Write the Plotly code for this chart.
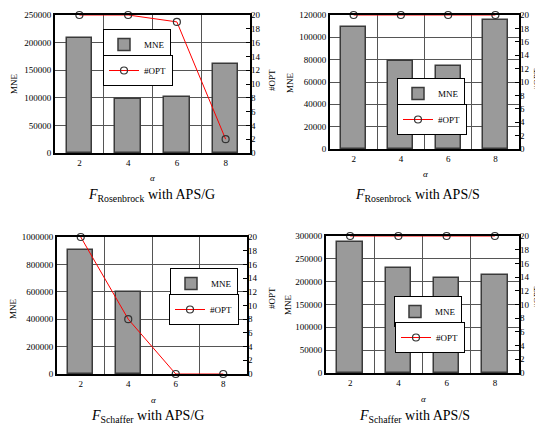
import plotly.graph_objects as go

alpha = [2, 4, 6, 8]
mne_rosen_g = [209000, 98000, 102000, 161000]
opt_rosen_g = [20, 20, 19, 2]
mne_rosen_s = [109000, 78600, 74200, 115500]
opt_rosen_s = [20, 20, 20, 20]
mne_schaf_g = [903000, 598000, 0, 0]
opt_schaf_g = [20, 8, 0, 0]
mne_schaf_s = [286000, 229000, 207000, 215500]
opt_schaf_s = [20, 20, 20, 20]

titles = ["<i>F</i><sub>Rosenbrock</sub> with APS/G",
          "<i>F</i><sub>Rosenbrock</sub> with APS/S",
          "<i>F</i><sub>Schaffer</sub> with APS/G",
          "<i>F</i><sub>Schaffer</sub> with APS/S"]
mne_sets = [mne_rosen_g, mne_rosen_s, mne_schaf_g, mne_schaf_s]
opt_sets = [opt_rosen_g, opt_rosen_s, opt_schaf_g, opt_schaf_s]
y_max = [250000, 120000, 1000000, 300000]
y_step = [50000, 20000, 200000, 50000]

W, H = 543, 425
OFF = 8  # page body margin in the browser
FW, FH = W - OFF, H - OFF
FONT = "Liberation Serif"

# plot boxes in window pixels (left, right, top, bottom)
boxes = [(55, 250, 15, 153), (330, 519, 15, 149), (57, 247, 237, 374), (326, 519, 236, 373)]
# legend top-left positions (MNE box, OPT box)
legpos = [((103, 29), (103, 55)), ((397, 78), (397, 104)),
          ((170, 268), (169, 294)), ((394, 296), (395, 322))]
title_pos = [(151, 195), (417, 195), (147, 416), (414, 416)]
alpha_pos = [(152, 178), (425, 174), (153, 400), (423, 399)]
mne_pos = [(14, 83), (290, 83), (13, 309), (288, 305)]
opt_pos = [(272, 80), (537, 79), (272, 298), (537, 297)]

def px(x):
    return (x - OFF) / FW

def py(y):
    return 1 - (y - OFF) / FH

fig = go.Figure()
layout = {}
annotations = []
for i in range(4):
    n = i + 1
    xa = "x" if n == 1 else f"x{n}"
    ya = "y" if n == 1 else f"y{n}"
    ya2 = f"y{n + 4}"
    leg1 = "legend" if n == 1 else f"legend{2 * n - 1}"
    leg2 = f"legend{2 * n}"
    outline = [1.5 if v > 0 else 0 for v in mne_sets[i]]
    fig.add_trace(go.Bar(x=alpha, y=mne_sets[i], width=1.05, name="MNE",
                         marker=dict(color="#9a9a9a", line=dict(color="#3a3a3a", width=outline)),
                         xaxis=xa, yaxis=ya, legend=leg1))
    fig.add_trace(go.Scatter(x=alpha, y=opt_sets[i], name="#OPT", mode="lines+markers",
                             line=dict(color="#ff0000", width=1),
                             marker=dict(symbol="circle-open", size=7, color="#333333",
                                         line=dict(width=1.2, color="#333333")),
                             cliponaxis=False, xaxis=xa, yaxis=ya2, legend=leg2))
    l, r, t, b = boxes[i]
    xkey = "xaxis" if n == 1 else f"xaxis{n}"
    ykey = "yaxis" if n == 1 else f"yaxis{n}"
    layout[xkey] = dict(domain=[px(l), px(r)], range=[1, 9], anchor=ya, automargin=False,
                        tickvals=alpha, showgrid=False, showline=True, mirror=True,
                        linecolor="black", linewidth=2, ticks="", zeroline=False,
                        tickfont=dict(family=FONT, size=9, color="black"),
                        minor=dict(tickvals=[3, 5, 7], showgrid=True, gridcolor="#555555",
                                   gridwidth=1, ticks=""))
    layout[ykey] = dict(domain=[py(b), py(t)], range=[0, y_max[i]], anchor=xa,
                        automargin=False,
                        dtick=y_step[i], showgrid=True, gridcolor="#555555", gridwidth=1,
                        showline=True, mirror=True, linecolor="black", linewidth=2,
                        ticks="", zeroline=False, tickformat="d",
                        tickfont=dict(family=FONT, size=9, color="black"))
    layout[f"yaxis{n + 4}"] = dict(overlaying=ya, side="right", anchor=xa, automargin=False,
                                   range=[0, 20], dtick=2, showgrid=False, zeroline=False,
                                   ticks="inside", ticklen=4, tickcolor="black", tickwidth=1,
                                   showline=False,
                                   tickfont=dict(family=FONT, size=9, color="black"))
    for key, (lx, ly) in zip([leg1, leg2], legpos[i]):
        layout[key] = dict(x=px(lx), y=py(ly), xanchor="left", yanchor="top",
                           bgcolor="white", bordercolor="black", borderwidth=1,
                           font=dict(family=FONT, size=9, color="black"), itemwidth=30)
    common = dict(xref="paper", yref="paper", showarrow=False,
                  xanchor="center", yanchor="middle")
    annotations.append(dict(text=titles[i], x=px(title_pos[i][0]), y=py(title_pos[i][1]),
                            font=dict(family=FONT, size=14, color="black"), **common))
    annotations.append(dict(text="<i>α</i>", x=px(alpha_pos[i][0]), y=py(alpha_pos[i][1]),
                            font=dict(family=FONT, size=9, color="black"), **common))
    annotations.append(dict(text="MNE", x=px(mne_pos[i][0]), y=py(mne_pos[i][1]),
                            textangle=-90,
                            font=dict(family=FONT, size=9, color="black"), **common))
    annotations.append(dict(text="#OPT", x=px(opt_pos[i][0]), y=py(opt_pos[i][1]),
                            textangle=-90,
                            font=dict(family=FONT, size=9, color="black"), **common))

fig.update_layout(**layout)
fig.update_layout(template="none", width=FW, height=FH, margin=dict(l=0, r=0, t=0, b=0),
                  paper_bgcolor="white", plot_bgcolor="white", annotations=annotations,
                  showlegend=True, bargap=0, font=dict(family=FONT, color="black"))
fig.write_html("out.html")
